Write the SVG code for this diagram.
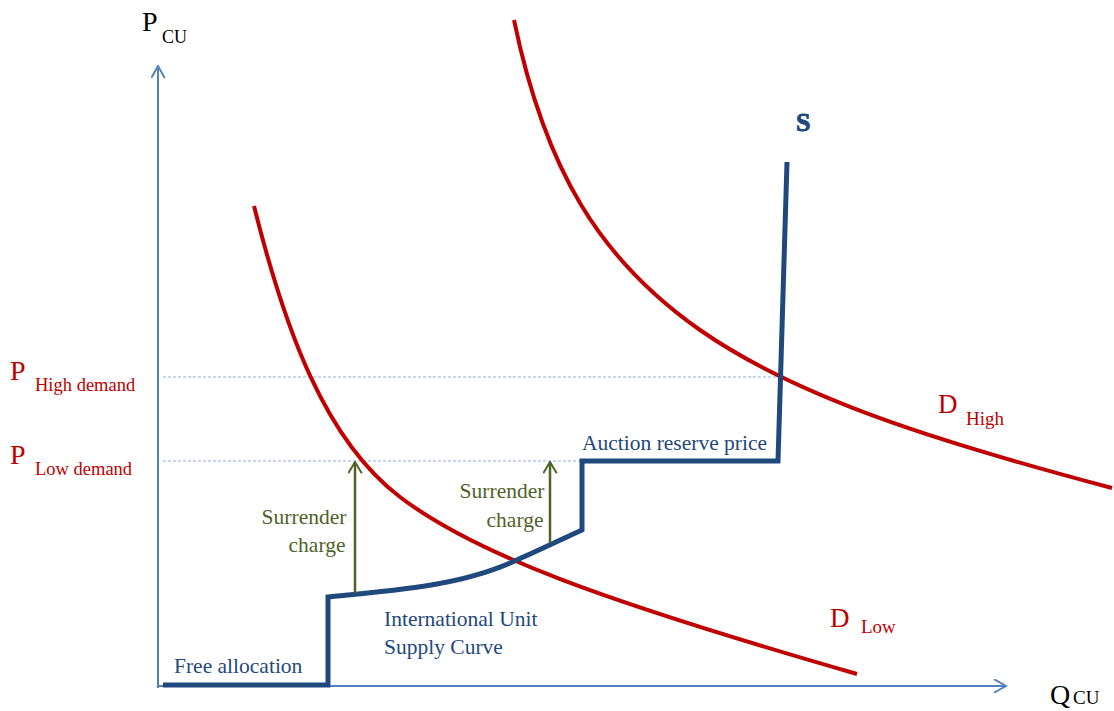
<svg xmlns="http://www.w3.org/2000/svg" width="1114" height="711" viewBox="0 0 1114 711">
  <style>
    text { font-family: "Liberation Serif", "Times New Roman", serif; }
    .axis { fill: none; stroke: #4f81bd; stroke-width: 2; }
    .guide { fill: none; stroke: #8eaadb; stroke-width: 1; stroke-dasharray: 3 2; }
    .supply { fill: none; stroke: #1f497d; stroke-width: 5; stroke-linejoin: miter; }
    .demand { fill: none; stroke: #c00000; stroke-width: 4; }
    .charge { fill: none; stroke: #4f6228; stroke-width: 2.5; }
    .red { fill: #c00000; }
    .navy { fill: #1f497d; }
    .green { fill: #4f6228; }
    .black { fill: #000; }
    .body { font-size: 21.5px; }
    .heavy { font-weight: bold; stroke: #1f497d; stroke-width: 0.9; }
  </style>
  <defs>
    <marker id="axisHead" viewBox="0 0 20 20" refX="18" refY="10" markerWidth="15" markerHeight="15" markerUnits="userSpaceOnUse" orient="auto">
      <path d="M2,1 L18,10 L2,19" fill="none" stroke="#4f81bd" stroke-width="2.6"/>
    </marker>
    <marker id="chargeHead" viewBox="0 0 20 20" refX="18" refY="10" markerWidth="15" markerHeight="15" markerUnits="userSpaceOnUse" orient="auto">
      <path d="M3,1 L18,10 L3,19" fill="none" stroke="#4f6228" stroke-width="2.6"/>
    </marker>
  </defs>

  <rect width="1114" height="711" fill="#fff"/>

  <!-- price guides -->
  <g id="guides">
    <line class="guide" x1="163" y1="377" x2="780" y2="377"/>
    <line class="guide" x1="163" y1="461" x2="580" y2="461"/>
  </g>

  <!-- axes -->
  <g id="axes">
    <line class="axis" x1="158" y1="688" x2="158" y2="66" marker-end="url(#axisHead)"/>
    <line class="axis" x1="158" y1="686" x2="1006" y2="686" marker-end="url(#axisHead)"/>
  </g>

  <!-- demand curves -->
  <g id="demand-low">
    <path class="demand" d="M254,206 C285,330 325,440 400,497 C475,554 600,600 857,674"/>
  </g>
  <g id="demand-high">
    <path class="demand" d="M514,20 C545,170 600,260 700,330 C800,400 950,445 1112,488"/>
  </g>

  <!-- supply curve -->
  <g id="supply">
    <path class="supply" d="M163,685 L328,685 L328,597 C400,590 460,585 510,563 C540,550 560,540 582,530 L582,461 L778,461 L787,162"/>
  </g>

  <!-- surrender charge arrows -->
  <g id="connectors">
    <line class="charge" x1="355" y1="593" x2="355" y2="462" marker-end="url(#chargeHead)"/>
    <line class="charge" x1="550" y1="543" x2="550" y2="462" marker-end="url(#chargeHead)"/>
  </g>

  <!-- axis labels -->
  <g id="label-p">
    <text class="black" x="142" y="31" font-size="28">P</text>
    <text class="black" x="162" y="43" font-size="18">CU</text>
  </g>
  <g id="label-q">
    <text class="black" x="1050" y="704" font-size="28">Q</text>
    <text class="black" x="1073" y="704" font-size="19">CU</text>
  </g>
  <g id="label-p-high">
    <text class="red" x="10" y="380" font-size="28">P</text>
    <text class="red" x="35" y="391" font-size="18.5">High demand</text>
  </g>
  <g id="label-p-low">
    <text class="red" x="10" y="464" font-size="28">P</text>
    <text class="red" x="35" y="475" font-size="18.5">Low demand</text>
  </g>

  <!-- curve labels -->
  <g id="label-s">
    <text class="navy heavy" x="796" y="131" font-size="26">S</text>
  </g>
  <g id="label-d-high">
    <text class="red" x="938" y="413" font-size="27">D</text>
    <text class="red" x="966" y="425" font-size="19">High</text>
  </g>
  <g id="label-d-low">
    <text class="red" x="830" y="627" font-size="27">D</text>
    <text class="red" x="861" y="633" font-size="19">Low</text>
  </g>
  <g id="label-auction">
    <text class="navy body" x="582" y="450">Auction reserve price</text>
  </g>
  <g id="label-charge-1">
    <text class="green body" x="304" y="524" text-anchor="middle">Surrender</text>
    <text class="green body" x="317" y="552" text-anchor="middle">charge</text>
  </g>
  <g id="label-charge-2">
    <text class="green body" x="502" y="498" text-anchor="middle">Surrender</text>
    <text class="green body" x="515" y="527" text-anchor="middle">charge</text>
  </g>
  <g id="label-international">
    <text class="navy body" x="384" y="626">International Unit</text>
    <text class="navy body" x="384" y="654">Supply Curve</text>
  </g>
  <g id="label-free">
    <text class="navy body" x="174" y="673">Free allocation</text>
  </g>
</svg>
